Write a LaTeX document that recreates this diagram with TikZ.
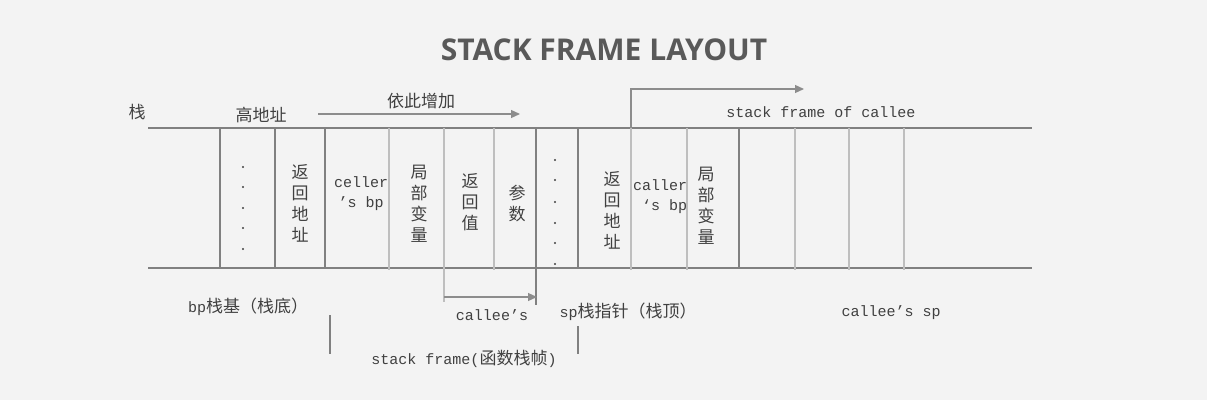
\documentclass[tikz,border=0pt]{standalone}
\usepackage{fontspec}
\setmainfont{Liberation Mono}
\newfontfamily\cjk{Noto Sans CJK SC}
\newfontfamily\titlefont{Open Sans}
\usetikzlibrary{arrows.meta}
\definecolor{bg}{HTML}{F3F3F3}
\definecolor{dkline}{HTML}{808080}
\definecolor{ltline}{HTML}{BEBEBE}
\definecolor{txtc}{HTML}{404040}
\definecolor{titlec}{HTML}{595959}
\definecolor{arrc}{HTML}{8C8C8C}
\begin{document}
\begin{tikzpicture}[x=1pt,y=-1pt,
  dk/.style={draw=dkline, line width=1.1pt},
  lt/.style={draw=ltline, line width=1.7pt},
  cj/.style={font=\cjk\fontsize{17}{21}\selectfont, text=txtc, inner sep=0pt, align=center},
  mono/.style={font=\fontsize{15}{20}\selectfont, text=txtc, inner sep=0pt},
  arr/.style={draw=arrc, line width=1.2pt, -{Triangle[length=9pt,width=8pt]}},
  dot/.style={fill=txtc}]
\fill[bg] (0,0) rectangle (1207,400);
\useasboundingbox (0,0) rectangle (1207,400);

% title
\node[font=\titlefont\bfseries\fontsize{30}{34}\selectfont, text=titlec] (title) at (604,50) {STACK FRAME LAYOUT};

% horizontal lines
\coordinate (tl) at (148,128); \coordinate (tr) at (1032,128);
\coordinate (bl) at (148,268); \coordinate (br) at (1032,268);
\draw[dk] (tl) -- (tr);
\draw[dk] (bl) -- (br);

% dark vertical lines
\foreach \x/\n in {220/a,275/b,325/c,578/g,739/j}{
  \coordinate (t\n) at (\x,128); \coordinate (b\n) at (\x,268);
  \draw[dk] (t\n) -- (b\n);
}
\coordinate (tf) at (536,128); \coordinate (bf) at (536,305);
\draw[dk] (tf) -- (bf);
% light vertical lines
\foreach \x/\n in {389/d,494/e,687/i,795/k,849/l,904/m}{
  \coordinate (t\n) at (\x,128); \coordinate (b\n) at (\x,270);
  \draw[lt] (t\n) -- (b\n);
}
\coordinate (th) at (631,128); \coordinate (bh) at (631,270);
\draw[lt] (th) -- (bh);
\coordinate (te) at (444,128); \coordinate (be) at (444,302);
\draw[lt] (te) -- (be);

% top labels
\node[cj] (zhan) at (137,112) {栈};
\node[cj] (gao) at (261,115) {高地址};
\node[cj] (yici) at (421,101) {依此增加};
\coordinate (a1s) at (318,114); \coordinate (a1e) at (520,114);
\draw[arr] (a1s) -- (a1e);

% callee frame bracket
\coordinate (c1) at (631,89); \coordinate (c2) at (804,89);
\draw[arr] (th) -- (c1) -- (c2);
\node[mono] (sfc) at (821,112) {stack frame of callee};

% cell contents
\foreach \y in {167,187,208,228,249}{
  \fill[dot] (243,\y) circle (1.1pt);
}
\foreach \y in {160,180,202,223,243,264}{
  \fill[dot] (555,\y) circle (1.1pt);
}
\node[cj] (ra1) at (300,203) {返\\回\\地\\址};
\node[mono, align=center] (cbp1) at (361,194) {celler\\’s bp};
\node[cj] (lv1) at (419,204) {局\\部\\变\\量};
\node[cj] (rv) at (470,202) {返\\回\\值};
\node[cj] (cs) at (517,204) {参\\数};
\node[cj] (ra2) at (612,210) {返\\回\\地\\址};
\node[mono, align=right] (cbp2) at (660,197) {caller\\‘s bp};
\node[cj] (lv2) at (706,206) {局\\部\\变\\量};

% bottom
\coordinate (cb) at (444,297); \coordinate (ce) at (537,297);
\draw[arr] (cb) -- (ce);
\node[mono] (callees) at (492,315) {callee’s};
\node[mono] (bp) at (248,307) {bp{\cjk\fontsize{17}{21}\selectfont 栈基（栈底）}};
\coordinate (v1a) at (330,315); \coordinate (v1b) at (330,354);
\draw[dk] (v1a) -- (v1b);
\node[mono] (sfm) at (464,359) {stack frame({\cjk\fontsize{17}{21}\selectfont 函数栈帧})};
\node[mono] (sp) at (628,312) {sp{\cjk\fontsize{17}{21}\selectfont 栈指针（栈顶）}};
\coordinate (v2a) at (578,326); \coordinate (v2b) at (578,354);
\draw[dk] (v2a) -- (v2b);
\node[mono] (csp) at (891,313) {callee’s sp};
\end{tikzpicture}
\end{document}
